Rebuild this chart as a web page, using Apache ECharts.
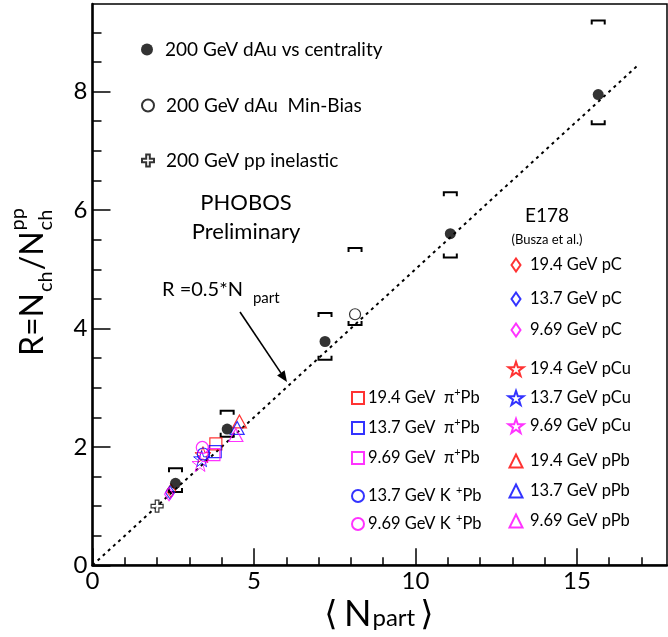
<!DOCTYPE html>
<html><head><meta charset="utf-8">
<script src="https://cdn.jsdelivr.net/npm/echarts@6/dist/echarts.min.js"></script>
<style>html,body{margin:0;padding:0;background:#fff}#c{width:668px;height:637px}</style>
</head><body><div id="c"></div>
<script>
// ---------------- DATA ----------------
const xMajor = [0, 5, 10, 15];
const xMinor = [1, 2, 3, 4, 6, 7, 8, 9, 11, 12, 13, 14, 16, 17];
const yMajor = [0, 2, 4, 6, 8];
const yMinor = [0.5, 1, 1.5, 2.5, 3, 3.5, 4.5, 5, 5.5, 6.5, 7, 7.5, 8.5, 9];

// PHOBOS 200 GeV dAu vs centrality
const dAuCentN = [2.57, 4.17, 7.2, 11.08, 15.66];
const dAuCentR = [1.385, 2.3, 3.78, 5.6, 7.95];
const dAuCentLow = [1.24, 2.17, 3.47, 5.2, 7.45];
const dAuCentHigh = [1.64, 2.61, 4.26, 6.3, 9.2];
// PHOBOS 200 GeV dAu min-bias
const dAuMBN = [8.13];
const dAuMBR = [4.24];
const dAuMBLow = [4.06];
const dAuMBHigh = [5.36];
// 200 GeV pp inelastic
const ppN = [2.0];
const ppR = [1.0];
// line R = 0.5*Npart
const lineN = [0, 16.9];
const lineR = [0, 8.45];

// E178 (Busza et al.)
const pC194 = [[2.43, 1.26]];
const pC137 = [[2.40, 1.23]];
const pC969 = [[2.37, 1.20]];
const pCu194 = [[3.42, 1.87]];
const pCu137 = [[3.38, 1.80]];
const pCu969 = [[3.33, 1.72]];
const pPb194 = [[4.55, 2.43]];
const pPb137 = [[4.48, 2.32]];
const pPb969 = [[4.44, 2.20]];
const piPb194 = [[3.82, 2.05]];
const piPb137 = [[3.80, 1.92]];
const piPb969 = [[3.76, 1.87]];
const KPb137 = [[3.43, 1.88]];
const KPb969 = [[3.40, 1.99]];

// ---------------- STYLE / LAYOUT ----------------
const FAM = "Lato, 'DejaVu Sans', sans-serif";
const RED = '#ff0000', BLUE = '#0000ff', MAG = '#ff00ff';
const STAR = 'path://M50,0 L61.8,34.5 L98,34.5 L68.8,56 L79.5,90.5 L50,69.5 L20.5,90.5 L31.2,56 L2,34.5 L38.2,34.5 Z';
const CROSS = 'path://M35,0 H65 V35 H100 V65 H65 V100 H35 V65 H0 V35 H35 Z';

const G = {left: 92.5, right: 1, top: 4, bottom: 71.7};
const XMAX = 17.79, YMAX = 9.48;

function hollow(name, data, symbol, color, size, bw) {
  return {
    name, type: 'scatter', data, symbol, symbolSize: size,
    itemStyle: {color: 'transparent', borderColor: color, borderWidth: bw || 1.2},
    z: 4, silent: true
  };
}

const series = [
  {
    name: 'line', type: 'line', data: lineN.map((n, i) => [n, lineR[i]]),
    showSymbol: false, symbol: 'none', lineStyle: {color: '#000', width: 2, type: [3, 4]}, z: 1, silent: true
  },
  {
    name: 'brackets', type: 'custom', silent: true, z: 3,
    data: dAuCentN.map((n, i) => [n, dAuCentLow[i], dAuCentHigh[i]])
      .concat(dAuMBN.map((n, i) => [n, dAuMBLow[i], dAuMBHigh[i]])),
    encode: {x: 0, y: [1, 2]},
    renderItem: function (params, api) {
      const lo = api.coord([api.value(0), api.value(1)]);
      const hi = api.coord([api.value(0), api.value(2)]);
      const w = 6.5, h = 4;
      const st = {stroke: '#000', lineWidth: 2, fill: null};
      return {type: 'group', children: [
        {type: 'polyline', shape: {points: [[hi[0] - w, hi[1] + h], [hi[0] - w, hi[1]], [hi[0] + w, hi[1]], [hi[0] + w, hi[1] + h]]}, style: st},
        {type: 'polyline', shape: {points: [[lo[0] - w, lo[1] - h], [lo[0] - w, lo[1]], [lo[0] + w, lo[1]], [lo[0] + w, lo[1] - h]]}, style: st}
      ]};
    }
  },
  hollow('19.4 GeV pC', pC194, 'diamond', RED, [9, 13]),
  hollow('13.7 GeV pC', pC137, 'diamond', BLUE, [9, 13]),
  hollow('9.69 GeV pC', pC969, 'diamond', MAG, [9, 13]),
  hollow('19.4 GeV pCu', pCu194, STAR, RED, 16, 1),
  hollow('13.7 GeV pCu', pCu137, STAR, BLUE, 16, 1),
  hollow('9.69 GeV pCu', pCu969, STAR, MAG, 16, 1),
  hollow('19.4 GeV pPb', pPb194, 'triangle', RED, [14, 13]),
  hollow('13.7 GeV pPb', pPb137, 'triangle', BLUE, [14, 13]),
  hollow('9.69 GeV pPb', pPb969, 'triangle', MAG, [14, 13]),
  hollow('19.4 GeV π+Pb', piPb194, 'rect', RED, 12),
  hollow('13.7 GeV π+Pb', piPb137, 'rect', BLUE, 12),
  hollow('9.69 GeV π+Pb', piPb969, 'rect', MAG, 12),
  hollow('13.7 GeV K+Pb', KPb137, 'circle', BLUE, 12),
  hollow('9.69 GeV K+Pb', KPb969, 'circle', MAG, 12),
  {
    name: '200 GeV dAu vs centrality', type: 'scatter', data: dAuCentN.map((n, i) => [n, dAuCentR[i]]),
    symbol: 'circle', symbolSize: 11, itemStyle: {color: '#000'}, z: 5, silent: true
  },
  {
    name: '200 GeV dAu  Min-Bias', type: 'scatter', data: dAuMBN.map((n, i) => [n, dAuMBR[i]]),
    symbol: 'circle', symbolSize: 11, itemStyle: {color: '#fff', borderColor: '#000', borderWidth: 1.2}, z: 5, silent: true
  },
  {
    name: '200 GeV pp inelastic', type: 'scatter', data: ppN.map((n, i) => [n, ppR[i]]),
    symbol: CROSS, symbolSize: 12, itemStyle: {color: '#fff', borderColor: '#000', borderWidth: 1.2}, z: 5, silent: true
  }
];

// ---------- legends (one per item, placed individually) ----------
const LFS = 16.5;
const richBase = {
  a: {fontFamily: FAM, fontSize: LFS, color: '#000', lineHeight: 22},
  w76: {fontFamily: FAM, fontSize: LFS, color: '#000', lineHeight: 22, width: 76},
  w88: {fontFamily: FAM, fontSize: LFS, color: '#000', lineHeight: 22, width: 88},
  s: {fontFamily: FAM, fontSize: 11, color: '#000', verticalAlign: 'top', lineHeight: 11}
};
function fmt(name) {
  let m = name.match(/^(.*) π\+Pb$/);
  if (m) return '{w76|' + m[1] + '}{a|π}{s|+}{a|Pb}';
  m = name.match(/^(.*) K\+Pb$/);
  if (m) return '{w88|' + m[1] + ' K}{s|+}{a|Pb}';
  return '{a|' + name + '}';
}
function mkLegend(name, cx, cy, tx, iw, ih, fs) {
  const pad = tx - (cx + iw / 2 + 5);
  const rich = JSON.parse(JSON.stringify(richBase));
  rich.a.fontSize = fs;
  return {
    data: [name], orient: 'vertical', left: cx - iw / 2, top: cy - ih / 2,
    padding: 0, itemGap: 0, itemWidth: iw, itemHeight: ih, selectedMode: false,
    textStyle: {fontFamily: FAM, fontSize: fs, color: '#000', padding: [0, 0, 0, pad], rich},
    formatter: fmt
  };
}
const topNames = ['200 GeV dAu vs centrality', '200 GeV dAu  Min-Bias', '200 GeV pp inelastic'];
const topY = [46, 102, 157];
const rightNames = ['19.4 GeV pC', '13.7 GeV pC', '9.69 GeV pC', '19.4 GeV pCu', '13.7 GeV pCu', '9.69 GeV pCu', '19.4 GeV pPb', '13.7 GeV pPb', '9.69 GeV pPb'];
const rightY = [263, 297, 328, 368, 397, 425, 459, 489, 519];
const leftNames = ['19.4 GeV π+Pb', '13.7 GeV π+Pb', '9.69 GeV π+Pb', '13.7 GeV K+Pb', '9.69 GeV K+Pb'];
const leftY = [393, 423, 453, 491, 519];

const legends = [];
topNames.forEach((n, i) => legends.push(mkLegend(n, 147, topY[i], 165, 12, 12, 19)));
rightNames.forEach((n, i) => {
  const isD = n.endsWith('pC');
  const isS = n.endsWith('pCu');
  legends.push(mkLegend(n, 515, rightY[i], 529, isD ? 9 : (isS ? 15 : 13), isS ? 15 : 13, LFS));
});
leftNames.forEach((n, i) => legends.push(mkLegend(n, 357, leftY[i], 367, 12, 12, LFS)));

// ---------- text measuring helper ----------
const cv = document.createElement('canvas').getContext('2d');
function tw(t, size) { cv.font = size + 'px ' + FAM; return cv.measureText(t).width; }

// Y-axis title (rotated): R=N_ch/N_ch^pp
const YF = 32, YS = 20;
const yPieces = [];
let px = 0;
yPieces.push({t: 'R=N', x: px, y: 0, f: YF}); px += tw('R=N', YF);
yPieces.push({t: 'ch', x: px + 1, y: 13, f: YS}); px += tw('ch', YS) + 2;
yPieces.push({t: '/N', x: px, y: 0, f: YF}); px += tw('/N', YF);
yPieces.push({t: 'ch', x: px + 1, y: 13, f: YS});
yPieces.push({t: 'pp', x: px + 1, y: -15, f: YS});
px += Math.max(tw('ch', YS), tw('pp', YS)) + 1;
const yTitleLen = px;
const yTitle = {
  type: 'group', x: 33, y: 282 + yTitleLen / 2, rotation: Math.PI / 2,
  children: yPieces.map(p => ({type: 'text', x: p.x, y: p.y,
    style: {text: p.t, font: p.f + 'px ' + FAM, fill: '#000', align: 'left', verticalAlign: 'middle'}}))
};

// X-axis title: < N_part >
const XB = 626;
const xTitle = [
  {type: 'text', x: 331, y: XB - 12, style: {text: '⟨', font: '34px ' + FAM, fill: '#000', align: 'center', verticalAlign: 'middle'}},
  {type: 'text', x: 344, y: XB - 12, style: {text: 'N', font: '36px ' + FAM, fill: '#000', align: 'left', verticalAlign: 'middle'}},
  {type: 'text', x: 344 + tw('N', 36) + 1, y: XB - 8, style: {text: 'part', font: '24px ' + FAM, fill: '#000', align: 'left', verticalAlign: 'middle'}},
  {type: 'text', x: 427, y: XB - 12, style: {text: '⟩', font: '34px ' + FAM, fill: '#000', align: 'center', verticalAlign: 'middle'}}
];

// annotation R = 0.5*N_part with arrow
const ax1 = 240, ay1 = 312, ax2 = 287, ay2 = 382;
const ang = Math.atan2(ay2 - ay1, ax2 - ax1);
const ah = 11, aw = 4.5;
const bx = ax2 - ah * Math.cos(ang), by = ay2 - ah * Math.sin(ang);
const arrow = [
  {type: 'line', shape: {x1: ax1, y1: ay1, x2: bx, y2: by}, style: {stroke: '#000', lineWidth: 1.6}},
  {type: 'polygon', shape: {points: [[ax2, ay2], [bx + aw * Math.sin(ang), by - aw * Math.cos(ang)], [bx - aw * Math.sin(ang), by + aw * Math.cos(ang)]]}, style: {fill: '#000'}}
];
const rW = tw('R =0.5*N', 20);
const texts = [
  {type: 'text', x: 162, y: 290, style: {text: 'R =0.5*N', font: '20px ' + FAM, fill: '#000', align: 'left', verticalAlign: 'middle'}},
  {type: 'text', x: 162 + rW + 10, y: 298, style: {text: 'part', font: '15px ' + FAM, fill: '#000', align: 'left', verticalAlign: 'middle'}},
  {type: 'text', x: 246, y: 203, style: {text: 'PHOBOS', font: '22px ' + FAM, fill: '#000', align: 'center', verticalAlign: 'middle'}},
  {type: 'text', x: 246, y: 232, style: {text: 'Preliminary', font: '22px ' + FAM, fill: '#000', align: 'center', verticalAlign: 'middle'}},
  {type: 'text', x: 547, y: 216, style: {text: 'E178', font: '19px ' + FAM, fill: '#000', align: 'center', verticalAlign: 'middle'}},
  {type: 'text', x: 547, y: 240, style: {text: '(Busza et al.)', font: '13px ' + FAM, fill: '#000', align: 'center', verticalAlign: 'middle'}}
];

const axisLabelStyle = {fontFamily: FAM, fontSize: 24, color: '#000'};
const tickStyle = {color: '#000', width: 1.5};

const option = {
  animation: false,
  backgroundColor: '#fff',
  grid: {left: G.left, right: G.right, top: G.top, bottom: G.bottom, show: true, borderColor: '#000', borderWidth: 1.5, containLabel: false},
  xAxis: [
    {type: 'value', min: 0, max: XMAX, position: 'bottom',
      axisLine: {lineStyle: {color: '#000', width: 2.5}},
      axisTick: {inside: true, length: 17, lineStyle: tickStyle, customValues: xMajor},
      axisLabel: Object.assign({customValues: xMajor, margin: 4}, axisLabelStyle),
      splitLine: {show: false}},
    {type: 'value', min: 0, max: XMAX, position: 'bottom',
      axisLine: {show: false},
      axisTick: {inside: true, length: 8, lineStyle: tickStyle, customValues: xMinor},
      axisLabel: {show: false}, splitLine: {show: false}}
  ],
  yAxis: [
    {type: 'value', min: 0, max: YMAX, position: 'left',
      axisLine: {lineStyle: {color: '#000', width: 2.5}},
      axisTick: {inside: true, length: 18, lineStyle: tickStyle, customValues: yMajor},
      axisLabel: Object.assign({customValues: yMajor, margin: 5}, axisLabelStyle),
      splitLine: {show: false}},
    {type: 'value', min: 0, max: YMAX, position: 'left',
      axisLine: {show: false},
      axisTick: {inside: true, length: 9, lineStyle: tickStyle, customValues: yMinor},
      axisLabel: {show: false}, splitLine: {show: false}}
  ],
  legend: legends,
  graphic: [yTitle].concat(xTitle, arrow, texts),
  series
};

const chart = echarts.init(document.getElementById('c'), null, {renderer: 'canvas'});
chart.setOption(option);
</script>
</body></html>
